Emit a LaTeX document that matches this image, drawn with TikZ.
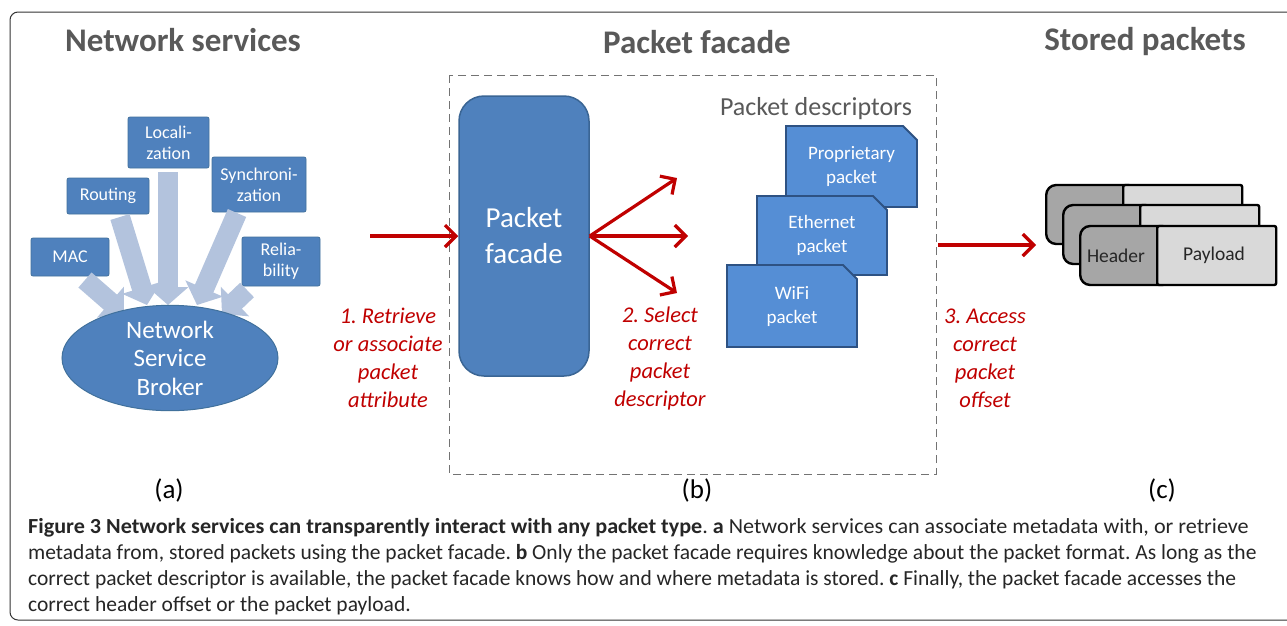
\documentclass[tikz,border=0pt]{standalone}
\usepackage{fontspec}
\setmainfont{Carlito}
\usetikzlibrary{arrows.meta,shapes.geometric,shapes.misc,calc}
\definecolor{blu}{HTML}{4F81BD}
\definecolor{bluline}{HTML}{41719C}
\definecolor{pfline}{HTML}{3A6594}
\definecolor{descfill}{HTML}{558ED5}
\definecolor{descline}{HTML}{2E5283}
\definecolor{fatc}{HTML}{B3C3DD}
\definecolor{redc}{HTML}{C00000}
\definecolor{gtxt}{HTML}{595959}
\definecolor{hdrc}{HTML}{A6A6A6}
\definecolor{payc}{HTML}{D9D9D9}
\frenchspacing
\tikzset{
  svc/.style={draw=bluline, fill=blu, text=white, align=center, inner sep=0pt, rounded corners=2pt, line width=0.8pt, font=\fontsize{18}{21}\selectfont},
  fatarrow/.style={draw=fatc, line width=20pt, -{Triangle[length=18pt 0, width=40pt 0]}},
  redarrow/.style={draw=redc, line width=3.2pt, -{Straight Barb[length=11pt 0, width=22pt 0]}},
  redlab/.style={text=redc, align=center, inner sep=0pt, font=\itshape\fontsize{22.5}{28}\selectfont},
  title/.style={text=gtxt, inner sep=0pt, font=\bfseries\fontsize{33}{36}\selectfont},
  desc/.style={chamfered rectangle, chamfered rectangle corners=north east, chamfered rectangle xsep=7pt, chamfered rectangle ysep=7pt, draw=descline, fill=descfill, line width=1.8pt, text=white, align=center, inner sep=0pt, font=\fontsize{19}{24}\selectfont},
  hdrbox/.style={draw=black, fill=hdrc, line width=2.4pt, rounded corners=10pt, minimum width=92pt, minimum height=59pt, inner sep=0pt, anchor=west},
  paybox/.style={draw=black, fill=payc, line width=2.4pt, rounded corners=2pt, minimum width=119pt, minimum height=59pt, inner sep=0pt, anchor=west},
  pktxt/.style={inner sep=0pt, text=black!85, font=\fontsize{19.5}{22}\selectfont},
  sub/.style={inner sep=0pt, font=\fontsize{27}{30}\selectfont},
  capline/.style={anchor=base west, inner sep=0pt, font=\fontsize{21.5}{24}\selectfont, text=black!85}
}
\begin{document}
\begin{tikzpicture}[x=1pt,y=-1pt]
\useasboundingbox (0,0) rectangle (1287,625);
\fill[white] (0,0) rectangle (1287,625);
% outer frame
\draw[line width=1pt, black!80, rounded corners=8pt] (10,12) rectangle (1300,620);
% titles
\node[title] (t1) at (183,40) {Network services};
\node[title] (t2) at (697,42) {Packet facade};
\node[title] (t3) at (1145,42) {Stored packets};
% dashed box
\draw[black!55, line width=1pt, dash pattern=on 8pt off 5pt] (449,75) rectangle (936,474);
% service boxes
\node[svc, minimum width=81pt, minimum height=51pt] (loc) at (168.5,142.5) {Locali-\\zation};
\node[svc, minimum width=82pt, minimum height=36pt] (rout) at (108,196) {Routing};
\node[svc, minimum width=94pt, minimum height=55pt] (sync) at (259,184.5) {Synchroni-\\zation};
\node[svc, minimum width=78pt, minimum height=38pt] (mac) at (70,257) {MAC};
\node[svc, minimum width=78pt, minimum height=49pt] (rel) at (281,261.5) {Relia-\\bility};
% fat arrows
\coordinate (f1s) at (85,280);  \coordinate (f1e) at (124,314);
\coordinate (f2s) at (120,217); \coordinate (f2e) at (147,305);
\coordinate (f3s) at (168,172); \coordinate (f3e) at (168,305);
\coordinate (f4s) at (237,213); \coordinate (f4e) at (197,305);
\coordinate (f5s) at (247,290); \coordinate (f5e) at (222,314);
\draw[fatarrow] (f1s) -- (f1e);
\draw[fatarrow] (f2s) -- (f2e);
\draw[fatarrow] (f3s) -- (f3e);
\draw[fatarrow] (f4s) -- (f4e);
\draw[fatarrow] (f5s) -- (f5e);
% broker
\node[ellipse, draw=bluline, fill=blu, line width=1pt, minimum width=216pt, minimum height=87pt, inner sep=0pt, text=white, align=center, font=\fontsize{25}{28.5}\selectfont] (nsb) at (170,358) {Network\\Service\\Broker};
% packet facade
\node[draw=pfline, fill=blu, line width=1.5pt, rounded corners=25pt, minimum width=130pt, minimum height=280pt, inner sep=0pt, text=white, align=center, font=\fontsize{29}{36}\selectfont] (pf) at (524,236) {Packet\\facade};
% red arrows
\coordinate (r1s) at (370,236);
\draw[redarrow] (r1s) -- (pf.west);
\coordinate (r2a) at (677,178);
\coordinate (r2b) at (688,236);
\coordinate (r2c) at (677,293);
\draw[redarrow] (pf.east) -- (r2a);
\draw[redarrow] (pf.east) -- (r2b);
\draw[redarrow] (pf.east) -- (r2c);
\coordinate (r3s) at (938,245);
\coordinate (r3e) at (1036,245);
\draw[redarrow] (r3s) -- (r3e);
% red labels
\node[redlab] (l1) at (388,358) {1. Retrieve\\or associate\\packet\\attribute};
\node[redlab] (l2) at (660,358) {2. Select\\correct\\packet\\descriptor};
\node[redlab] (l3) at (985,358) {3. Access\\correct\\packet\\offset};
% packet descriptors
\node[text=gtxt, inner sep=0pt, font=\fontsize{26}{30}\selectfont] (pdl) at (816,109) {Packet descriptors};
\node[desc, minimum width=131pt, minimum height=81pt] (prop) at (851.5,166.5) {Proprietary\\packet};
\node[desc, minimum width=130pt, minimum height=79pt] (eth) at (822,235.5) {Ethernet\\packet};
\node[desc, minimum width=130pt, minimum height=82pt] (wifi) at (792,306) {WiFi\\packet};
% stored packets
\node[hdrbox] (h1) at (1045,214.5) {};
\node[paybox] (p1) at (1122,214.5) {};
\node[hdrbox] (h2) at (1062,234.5) {};
\node[paybox] (p2) at (1139,234.5) {};
\node[hdrbox] (h3) at (1079,255.5) {};
\node[paybox] (p3) at (1156,255.5) {};
\node[pktxt] (hl) at (1116,255.5) {Header};
\node[pktxt] (pl) at (1214,255.5) {Payload};
% sub labels
\node[sub] (sa) at (169,490) {(a)};
\node[sub] (sb) at (697,490) {(b)};
\node[sub] (sc) at (1162,490) {(c)};
% caption
\node[capline] (c1) at (28,533) {\scalebox{1.03}[1]{\textbf{Figure 3 Network services can transparently interact with any packet type}. \textbf{a} Network services can associate metadata with, or retrieve}};
\node[capline] (c2) at (28,559) {metadata from, stored packets using the packet facade. \textbf{b} Only the packet facade requires knowledge about the packet format. As long as the};
\node[capline] (c3) at (28,585) {correct packet descriptor is available, the packet facade knows how and where metadata is stored. \textbf{c} Finally, the packet facade accesses the};
\node[capline] (c4) at (28,611) {correct header offset or the packet payload.};
\end{tikzpicture}
\end{document}
